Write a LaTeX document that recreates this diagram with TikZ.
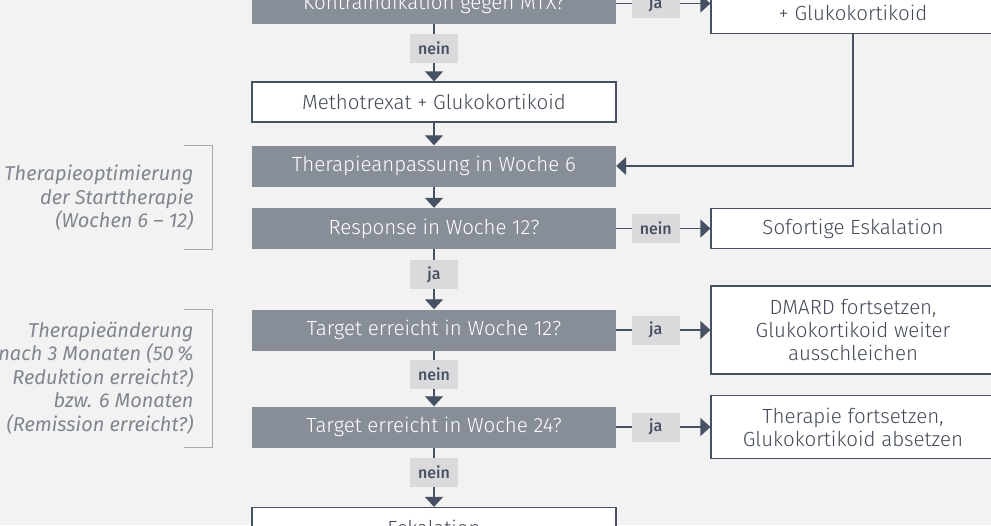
\documentclass[tikz,border=0pt]{standalone}
\usepackage{fontspec}
\setmainfont{Fira Sans Light}[ItalicFont={Fira Sans Italic},BoldFont={Fira Sans Medium}]
\usetikzlibrary{arrows.meta}
\usetikzlibrary{positioning}

\definecolor{bgcol}{HTML}{F2F2F2}
\definecolor{boxgray}{HTML}{888E97}
\definecolor{linecol}{HTML}{465163}
\definecolor{txtcol}{HTML}{434A57}
\definecolor{lblfill}{HTML}{DADADC}
\definecolor{notecol}{HTML}{80868F}
\definecolor{bracecol}{HTML}{A5A9AF}

\tikzset{
	flow/.style={->, draw=linecol, line width=1.3pt},
	decision/.style={fill=boxgray, text=white, minimum width=364pt, minimum height=41pt, inner sep=0pt, font=\fontsize{20.5pt}{23pt}\selectfont},
	action/.style={draw=linecol, fill=white, text=txtcol, line width=1.2pt, minimum width=364pt, minimum height=40pt, inner sep=0pt, align=center, font=\fontsize{20.5pt}{23pt}\selectfont},
	outcome/.style={action, minimum width=284pt},
	lbl/.style={fill=lblfill, text=linecol, minimum width=48pt, minimum height=29pt, inner sep=0pt, font=\bfseries\fontsize{16pt}{18pt}\selectfont},
	note/.style={anchor=east, align=right, text=notecol, font=\itshape\fontsize{20pt}{23.5pt}\selectfont},
	brace/.style={draw=bracecol, line width=1pt}
}

\begin{document}
\begin{tikzpicture}[x=1pt,y=1pt,>={Triangle[length=10pt,width=18pt]},node distance=10pt,on grid]
	\path[use as bounding box, clip] (0,0) rectangle (991,-525);
	\fill[bgcol] (0,0) rectangle (991,-525);

	% main column
	\node[decision] (kontra) at (434,-3.5) {Kontraindikation gegen MTX?};
	\node[action] (metho) [below=98.5pt of kontra] {Methotrexat + Glukokortikoid};
	\node[decision] (anpass) [below=64pt of metho] {Therapieanpassung in Woche 6};
	\node[decision] (resp) [below=62.5pt of anpass] {Response in Woche 12?};
	\node[decision] (targa) [below=101.5pt of resp] {Target erreicht in Woche 12?};
	\node[decision] (targb) [below=97pt of targa] {Target erreicht in Woche 24?};
	\node[action] (eskal) [below=100.5pt of targb] {Eskalation};

	% right column
	\node[outcome, anchor=south, text height=50pt, text depth=5pt, inner ysep=8pt] (glukr) at (853,-34) {+ Glukokortikoid};
	\node[outcome] (sofort) [right=419pt of resp] {Sofortige Eskalation};
	\node[outcome, minimum height=88pt] (dmard) [right=419pt of targa] {DMARD fortsetzen,\\Glukokortikoid weiter\\ausschleichen};
	\node[outcome, minimum height=63pt] (therf) [right=419pt of targb] {Therapie fortsetzen,\\Glukokortikoid absetzen};

	% phases
	\node[note] (optnote) at (197,-198) {Therapieoptimierung\\der Starttherapie\\(Wochen 6 -- 12)};
	\node[note] (aendnote) at (197,-378) {Therapieänderung\\nach 3 Monaten (50\,\%\\Reduktion erreicht?)\\bzw. 6 Monaten\\(Remission erreicht?)};
	\draw[brace] ([xshift=-68pt]anpass.north west) -| ([xshift=-39pt]resp.south west) -- ++(-29,0);
	\draw[brace] ([xshift=-68pt]targa.north west) -| ([xshift=-39pt]targb.south west) -- ++(-29,0);

	\draw[flow] (kontra.east) -- node[lbl, pos=0.42] {ja} (kontra.east -| glukr.west);
	\draw[flow] (kontra) -- node[lbl, pos=0.42] {nein} (metho);
	\draw[flow] (glukr.south) |- (anpass.east);
	\draw[flow] (metho) -- (anpass);
	\draw[flow] (anpass) -- (resp);
	\draw[flow] (resp) -- node[lbl, pos=0.42] {nein} (sofort);
	\draw[flow] (resp) -- node[lbl, pos=0.42] {ja} (targa);
	\draw[flow] (targa) -- node[lbl, pos=0.42] {ja} (dmard);
	\draw[flow] (targa) -- node[lbl, pos=0.42] {nein} (targb);
	\draw[flow] (targb) -- node[lbl, pos=0.42] {ja} (therf);
	\draw[flow] (targb) -- node[lbl, pos=0.42] {nein} (eskal);

\end{tikzpicture}
\end{document}
